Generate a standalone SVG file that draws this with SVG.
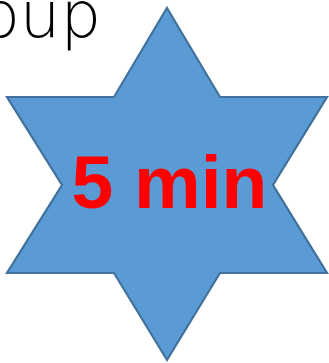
<svg xmlns="http://www.w3.org/2000/svg" width="329" height="363" viewBox="0 0 329 363">
<style>
.star{fill:#5B9BD5;stroke:#41719C;stroke-width:2.2;stroke-linejoin:miter}
.label{font-family:"Liberation Sans",Arial,sans-serif;font-weight:bold;fill:#FF0000}
.title{font-family:"DejaVu Sans","Liberation Sans",sans-serif;font-weight:200;fill:#000}
</style>
<g id="title"><text class="title" x="101" y="37" font-size="64" text-anchor="end">oup</text></g>
<g id="star">
<polygon class="star" points="167,8 220,97 327,97 273,185 327,273 220,273 167,360 114,273 7,273 62,185 7,97 114,97"/>
<text class="label" x="169.5" y="208" font-size="75" text-anchor="middle">5 min</text>
</g>
</svg>
